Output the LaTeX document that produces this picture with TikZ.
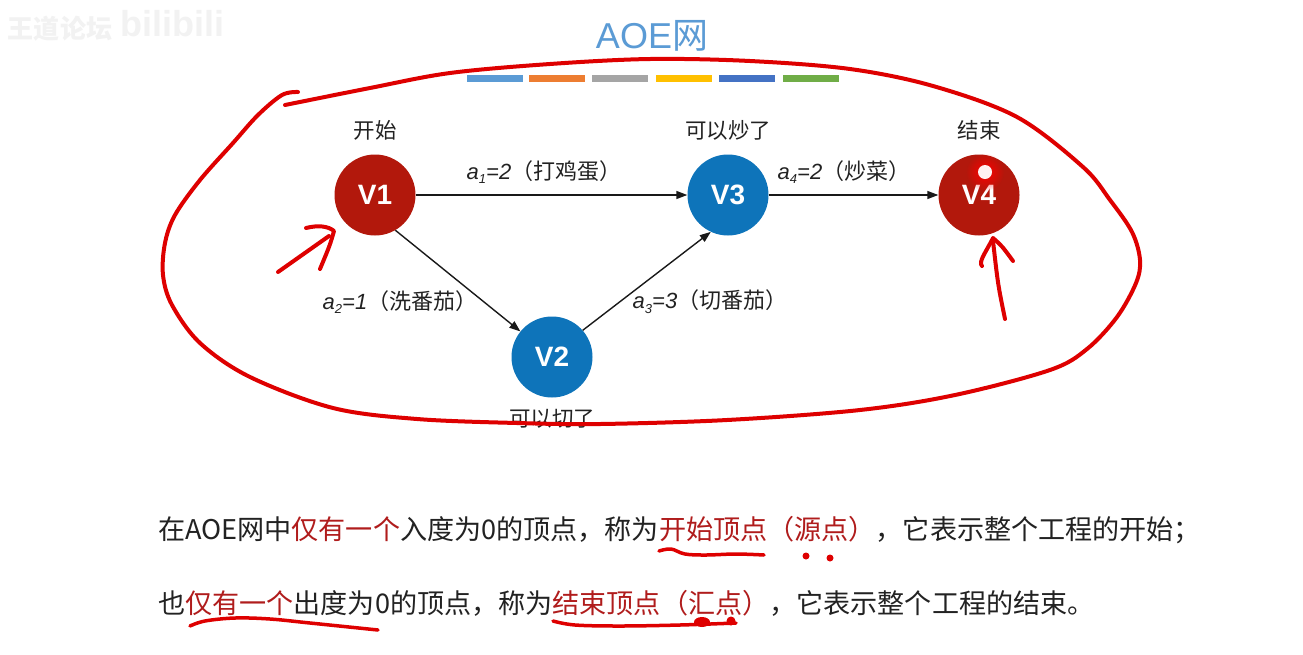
\documentclass[tikz,border=0pt]{standalone}
\usepackage{fontspec}
\setmainfont{Noto Sans CJK SC}
\newfontfamily\lat{Liberation Sans}
\usetikzlibrary{arrows.meta,fadings}

\definecolor{nodered}{RGB}{178,24,12}
\definecolor{nodeblue}{RGB}{14,116,186}
\definecolor{titleblue}{RGB}{91,155,213}
\definecolor{ink}{RGB}{34,34,34}
\definecolor{textred}{RGB}{176,28,28}
\definecolor{pen}{RGB}{222,0,0}
\definecolor{barA}{RGB}{91,155,213}
\definecolor{barB}{RGB}{237,125,49}
\definecolor{barC}{RGB}{165,165,165}
\definecolor{barD}{RGB}{255,192,0}
\definecolor{barE}{RGB}{68,114,196}
\definecolor{barF}{RGB}{112,173,71}

\tikzfading[name=glowfade, inner color=transparent!0, outer color=transparent!100]

\newcommand{\fs}[1]{\fontsize{#1}{#1}\selectfont}
\newcommand{\subidx}[1]{\raisebox{-0.22em}{\fs{13}#1}}
\newcommand{\act}[2]{{\lat\itshape a\subidx{#1}=#2}}

\tikzset{
  vertex/.style={circle, minimum size=81pt, inner sep=0pt, text=white,
                 font=\lat\bfseries\fs{28}},
  redv/.style={vertex, fill=nodered},
  bluev/.style={vertex, fill=nodeblue},
  tag/.style={text=ink, font=\fs{21.5}, inner sep=0pt},
  elabel/.style={text=ink, font=\fs{22}, inner sep=0pt},
  edge/.style={draw=black!90, line width=1.4pt, -{Triangle[length=11pt,width=8pt]}},
  penline/.style={draw=pen, line width=4pt, line cap=round, line join=round},
  body/.style={anchor=west, text=ink, font=\fs{27.1}, inner sep=0pt},
}

\begin{document}
\begin{tikzpicture}[x=1pt, y=-1pt]
  % canvas
  \fill[white] (0,0) rectangle (1303,654);
  \useasboundingbox (0,0) rectangle (1303,654);

  % faint channel watermark
  \node[text=black!5, font=\fs{26}\bfseries, inner sep=0pt] (wm1) at (60,29) {王道论坛};
  \node[text=black!5, font=\lat\bfseries\fs{36}, inner sep=0pt] (wm2) at (172,24) {bilibili};

  % title and colour bars
  \node[text=titleblue, font=\fs{36}, inner sep=0pt] (title) at (652,36) {{\lat AOE}网};
  \foreach \c/\xa in {barA/467, barB/529, barC/592, barD/656, barE/719, barF/783}
    \fill[\c] (\xa,75) rectangle ++(56,7);

  % vertices
  \node[redv]  (v1) at (375,195) {V1};
  \node[bluev] (v3) at (728,195) {V3};
  \node[redv]  (v4) at (979,195) {V4};
  \node[bluev] (v2) at (552,357) {V2};

  \node[tag] (t1) at (375,130) {开始};
  \node[tag] (t3) at (728,130) {可以炒了};
  \node[tag] (t4) at (979,130) {结束};
  \node[tag] (t2) at (552,419) {可以切了};

  % activities
  \draw[edge] (v1) -- (v3);
  \draw[edge] (v3) -- (v4);
  \draw[edge] (v1.300) -- (v2.141);
  \draw[edge] (v2.41) -- (v3.245);

  \node[elabel] (e1) at (544,172) {\act{1}{2}（打鸡蛋）};
  \node[elabel] (e4) at (844,172) {\act{4}{2}（炒菜）};
  \node[elabel] (e2) at (400,302) {\act{2}{1}（洗番茄）};
  \node[elabel] (e3) at (710,302) {\act{3}{3}（切番茄）};

  % laser pointer spot
  \fill[red, path fading=glowfade] (985,172) circle (19);
  \fill[white!80!pink] (985,172) circle (7);

  % explanation
  \node[body] (line1) at (158,530)
    {在AOE网中\textcolor{textred}{仅有一个}入度为0的顶点，称为\textcolor{textred}{开始顶点（源点）}，它表示整个工程的开始；};
  \node[body] (line2) at (158,603)
    {也\textcolor{textred}{仅有一个}出度为0的顶点，称为\textcolor{textred}{结束顶点（汇点）}，它表示整个工程的结束。};

  % hand-drawn loop around the network
  \draw[penline] plot[smooth, tension=0.55] coordinates {
    (298,92) (282,95) (258,115) (233,143) (200,180) (175,215) (165,243)
    (163,275) (172,305) (200,343) (250,377) (333,408) (417,419) (517,423)
    (600,424) (727,420) (860,410) (955,395) (1050,370) (1087,349) (1117,317)
    (1136,283) (1140,260) (1132,232) (1110,200) (1083,167) (1017,117)
    (933,86) (850,69) (750,61) (650,59) (550,64) (450,73) (370,88) (285,105)};

  % hand-drawn pointer at the source
  \draw[penline] (278,272) -- (329,236);
  \draw[penline] (306,228) .. controls (318,225) and (328,226) .. (334,231)
                 .. controls (330,245) .. (320,269);

  % hand-drawn pointer at the sink
  \draw[penline] (1005,319) .. controls (998,285) .. (993,241);
  \draw[penline] (982,266) .. controls (978,262) and (986,252) .. (993,238)
                 .. controls (1002,246) .. (1013,261);

  % hand-drawn underlines
  \draw[penline, line width=3.5pt] plot[smooth, tension=0.6] coordinates {
    (659,551) (671,549) (685,554) (706,555) (736,554) (764,555)};
  \fill[pen] (806,556) circle (3.5);
  \fill[pen] (830,558) circle (3.5);

  \draw[penline, line width=3.5pt] plot[smooth, tension=0.6] coordinates {
    (190,626) (205,621) (235,618) (270,619) (310,623) (378,630)};

  \draw[penline, line width=3.5pt] plot[smooth, tension=0.6] coordinates {
    (553,621) (575,625) (620,626) (680,625) (736,623)};
  \fill[pen] (702,622) ellipse (8 and 5);
  \fill[pen] (731,621) circle (4.5);
\end{tikzpicture}
\end{document}
